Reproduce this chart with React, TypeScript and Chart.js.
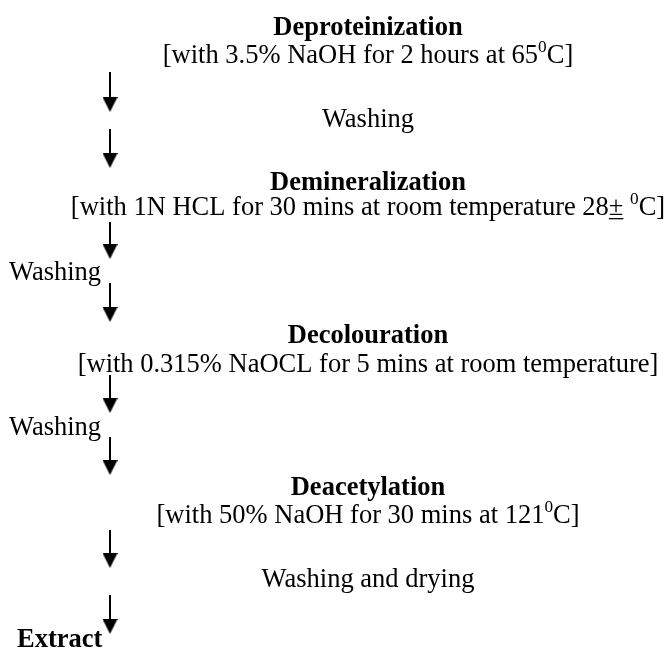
import React, { useEffect, useRef } from 'react';
import { Chart, registerables } from 'chart.js';
Chart.register(...registerables);

// ---- content ----
const STEP_NAMES = ['Deproteinization', 'Demineralization', 'Decolouration', 'Deacetylation'];
const STEP_CONDITIONS = [
  '[with 3.5% NaOH for 2 hours at 65^{0}C]',
  '[with 1N HCL for 30 mins at room temperature 28_{±} ^{0}C]',
  '[with 0.315% NaOCL for 5 mins at room temperature]',
  '[with 50% NaOH for 30 mins at 121^{0}C]',
];
const WASH_LABELS = ['Washing', 'Washing', 'Washing', 'Washing and drying'];
const FINAL_PRODUCT = 'Extract';

// ---- layout (units of the hidden linear axes) ----
const W = 670;
const H = 648;
const CENTER_X = 368;
const ARROW_X = 110;
const STEP_Y = [35, 190, 343, 495];
const COND_Y = [63, 215, 372, 523];
const WASH_Y = [127, 280, 435, 587];
const WASH_ALIGN = ['center', 'left', 'left', 'center'];
const WASH_LEFT_X = 9;
const FINAL_X = 17;
const FINAL_Y = 647;
const ARROW_TOP = [72, 129, 222, 283, 375, 437, 530, 595];
const ARROW_TIP = [112, 168, 259, 322, 413, 475, 568, 634];

// ---- style ----
const FONT_SIZE = 26.5;
const STRETCH_X = 1;
const HEAD_W = 15;
const HEAD_H = 15;
const FONT_FAMILY = '"Liberation Serif", "Times New Roman", Times, serif';

type Seg = { t: string; sup?: boolean; ul?: boolean };
function parseRich(s: string): Seg[] {
  const out: Seg[] = [];
  const re = /\^\{([^}]*)\}|_\{([^}]*)\}|([^^_]+)/g;
  let m: RegExpExecArray | null;
  while ((m = re.exec(s))) {
    if (m[1] !== undefined) out.push({ t: m[1], sup: true });
    else if (m[2] !== undefined) out.push({ t: m[2], ul: true });
    else out.push({ t: m[3] });
  }
  return out;
}

function drawRich(ctx: CanvasRenderingContext2D, str: string, x: number, y: number,
  align: string, bold: boolean) {
  const segs = parseRich(str);
  const font = (sz: number) => `${bold ? 'bold ' : ''}${sz}px ${FONT_FAMILY}`;
  const widths: number[] = [];
  let total = 0;
  for (const s of segs) {
    ctx.font = font(s.sup ? FONT_SIZE * 0.65 : FONT_SIZE);
    const w = ctx.measureText(s.t).width;
    widths.push(w);
    total += w;
  }
  ctx.save();
  ctx.translate(x, y);
  ctx.scale(STRETCH_X, 1);
  ctx.fillStyle = '#000';
  ctx.textBaseline = 'alphabetic';
  ctx.textAlign = 'left';
  let cx = align === 'center' ? -total / 2 : 0;
  segs.forEach((s, i) => {
    ctx.font = font(s.sup ? FONT_SIZE * 0.65 : FONT_SIZE);
    ctx.fillText(s.t, cx, s.sup ? -FONT_SIZE * 0.4 : 0);
    if (s.ul) ctx.fillRect(cx, 3, widths[i], 1.3);
    cx += widths[i];
  });
  ctx.restore();
}

function makeHead(): HTMLCanvasElement {
  // triangle drawn in lower half, so the image centre is the triangle's top edge
  const c = document.createElement('canvas');
  c.width = HEAD_W;
  c.height = HEAD_H * 2;
  const g = c.getContext('2d')!;
  g.fillStyle = '#000';
  g.beginPath();
  g.moveTo(0, HEAD_H);
  g.lineTo(HEAD_W, HEAD_H);
  g.lineTo(HEAD_W / 2, HEAD_H * 2);
  g.closePath();
  g.fill();
  return c;
}

const textPlugin = {
  id: 'flowText',
  afterDatasetsDraw(chart: any) {
    const ctx = chart.ctx as CanvasRenderingContext2D;
    const xs = chart.scales.x;
    const ys = chart.scales.y;
    STEP_NAMES.forEach((name, i) => {
      drawRich(ctx, name, xs.getPixelForValue(CENTER_X), ys.getPixelForValue(STEP_Y[i]), 'center', true);
      drawRich(ctx, STEP_CONDITIONS[i], xs.getPixelForValue(CENTER_X), ys.getPixelForValue(COND_Y[i]), 'center', false);
    });
    WASH_LABELS.forEach((lab, i) => {
      const al = WASH_ALIGN[i];
      const x = al === 'center' ? CENTER_X : WASH_LEFT_X;
      drawRich(ctx, lab, xs.getPixelForValue(x), ys.getPixelForValue(WASH_Y[i]), al, false);
    });
    drawRich(ctx, FINAL_PRODUCT, xs.getPixelForValue(FINAL_X), ys.getPixelForValue(FINAL_Y), 'left', true);
  },
};

export default function App() {
  const ref = useRef<HTMLCanvasElement>(null);
  useEffect(() => {
    if (!ref.current) return;
    const head = makeHead();
    const datasets = ARROW_TOP.map((top, i) => ({
      data: [
        { x: ARROW_X, y: top },
        { x: ARROW_X, y: ARROW_TIP[i] - HEAD_H },
      ],
      showLine: true,
      borderColor: '#000',
      borderWidth: 2,
      backgroundColor: '#000',
      pointRadius: [0, HEAD_H],
      pointStyle: [false, head] as any,
      pointBorderWidth: 0,
    }));
    const chart = new Chart(ref.current, {
      type: 'scatter',
      data: { datasets: datasets as any },
      options: {
        responsive: false,
        animation: false,
        events: [],
        layout: { padding: 0, autoPadding: false },
        plugins: { legend: { display: false }, tooltip: { enabled: false } },
        scales: {
          x: { type: 'linear', display: false, min: 0, max: W },
          y: { type: 'linear', display: false, min: 0, max: H, reverse: true },
        },
      },
      plugins: [textPlugin],
    });
    return () => chart.destroy();
  }, []);
  return (
    <div style={{ position: 'fixed', left: 0, top: 0, width: W, height: H, background: '#fff' }}>
      <canvas ref={ref} width={W} height={H} style={{ display: 'block' }} />
    </div>
  );
}
